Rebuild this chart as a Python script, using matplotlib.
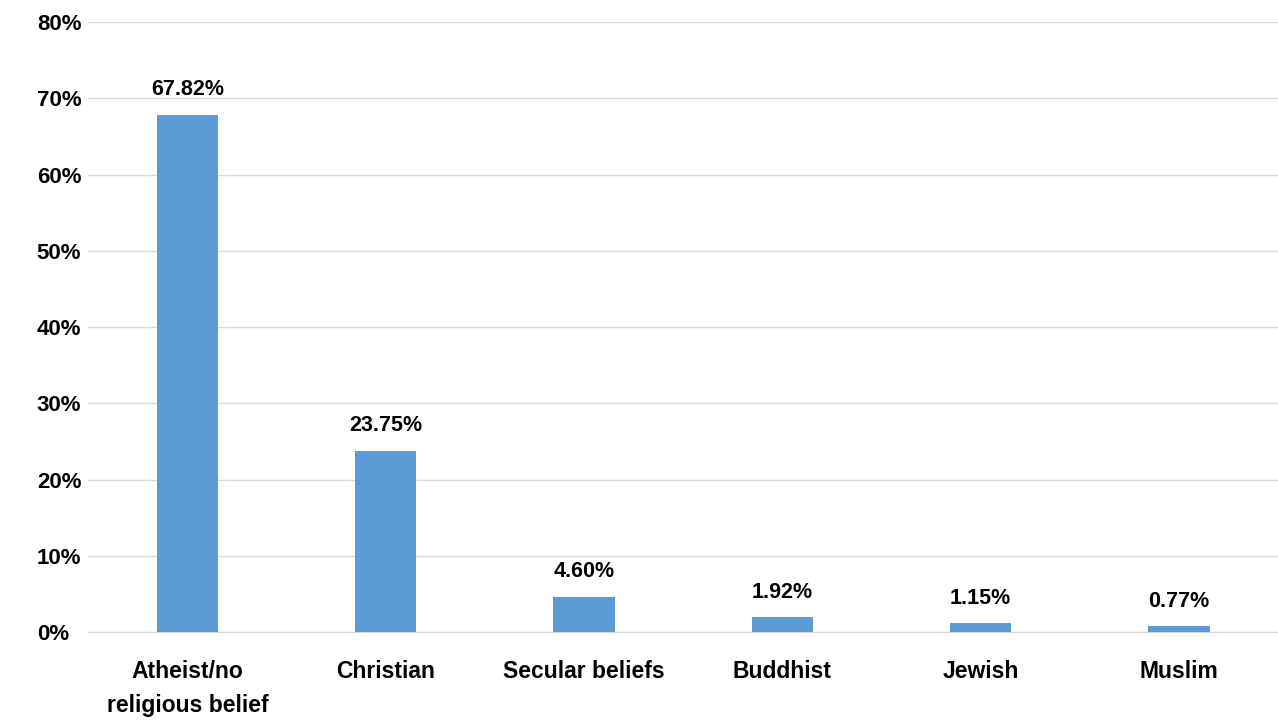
import matplotlib
matplotlib.use("Agg")
import matplotlib.pyplot as plt
from matplotlib.ticker import FuncFormatter

categories = ["Atheist/no\nreligious belief", "Christian", "Secular beliefs", "Buddhist", "Jewish", "Muslim"]
values = [67.82, 23.75, 4.60, 1.92, 1.15, 0.77]

BAR = "#5b9bd5"; GRID = "#d9d9d9"
plt.rcParams["font.family"] = ["Liberation Sans", "DejaVu Sans"]

fig = plt.figure(figsize=(12.78, 7.2), dpi=100, facecolor="white")
ax = fig.add_axes([0.069, 0.1222, 0.931, 0.8472])
x = range(len(values))
ax.bar(x, values, width=0.31, color=BAR, zorder=3)
for xi, v in zip(x, values):
    ax.text(xi, v + 1.9, "%.2f%%" % v, ha="center", va="bottom", fontsize=15.5, fontweight="bold", color="black")

ax.set_xlim(-0.5, len(values) - 0.5)
ax.set_ylim(0, 80)
ax.set_yticks(range(0, 81, 10))
ax.yaxis.set_major_formatter(FuncFormatter(lambda v, p: "%d%%" % v))
ax.grid(axis="y", color=GRID, lw=1, zorder=0)
for s in ["top", "right", "left"]:
    ax.spines[s].set_visible(False)
ax.spines["bottom"].set_color(GRID)
ax.set_xticks(list(x))
ax.set_xticklabels(categories, fontsize=16.5, fontweight="bold", va="top", linespacing=1.6)
for lbl in ax.get_yticklabels():
    lbl.set_fontsize(16); lbl.set_fontweight("bold")
ax.tick_params(axis="both", length=0)
ax.tick_params(axis="x", pad=20)
ax.tick_params(axis="y", pad=37)
for lbl in ax.get_yticklabels():
    lbl.set_horizontalalignment("left")

fig.savefig("out.png", dpi=100, facecolor="white")
